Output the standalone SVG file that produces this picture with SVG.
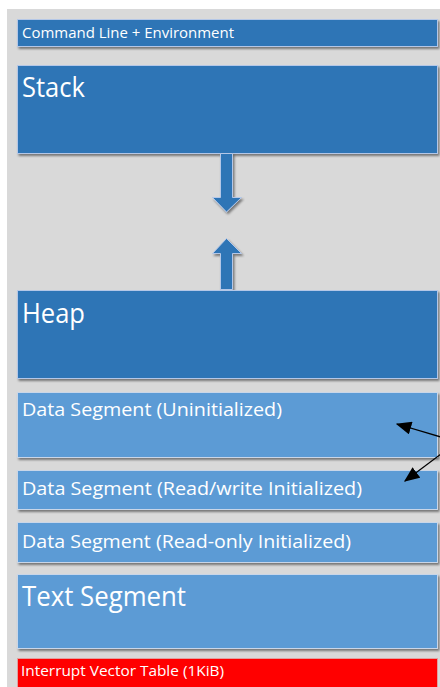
<svg xmlns="http://www.w3.org/2000/svg" width="440" height="687" viewBox="0 0 440 687">
<defs>
<filter id="sh" x="-5%" y="-5%" width="115%" height="130%">
<feDropShadow dx="1.5" dy="2" stdDeviation="1.2" flood-color="#000" flood-opacity="0.45"/>
</filter>
<marker id="ah2" viewBox="0 0 12 10" markerWidth="16" markerHeight="13" refX="11" refY="5" orient="auto" markerUnits="userSpaceOnUse">
<path d="M0,0 L12,5 L0,10 z" fill="#000"/>
</marker>
</defs>
<style>
.dk{fill:#2e75b6;stroke:#b4c7e7;stroke-width:1}
.lt{fill:#5b9bd5;stroke:#c9d6e8;stroke-width:1}
.rd{fill:#ff0000;stroke:#e0a0a0;stroke-width:1}
text{font-family:"Open Sans","Noto Sans","Liberation Sans",sans-serif;fill:#fff}
.s{font-size:15px}
.m{font-size:18px}
.l{font-size:27px}
</style>
<rect x="7" y="9" width="433" height="678" fill="#d9d9d9"/>
<g id="cmdline">
<rect class="dk" x="17.5" y="19.5" width="420" height="27" filter="url(#sh)"/>
<text class="s" x="22" y="38" textLength="212" lengthAdjust="spacingAndGlyphs">Command Line + Environment</text>
</g>
<g id="stack">
<rect class="dk" x="17.5" y="65.5" width="420" height="88" filter="url(#sh)"/>
<text class="l" x="22" y="97" textLength="63" lengthAdjust="spacingAndGlyphs">Stack</text>
</g>
<g id="arrows-growth">
<path class="dk" d="M220.5,153.5 L232.5,153.5 L232.5,197.5 L241.5,197.5 L226.5,212 L212.5,197.5 L220.5,197.5 Z" filter="url(#sh)"/>
<path class="dk" d="M220.5,289.5 L232.5,289.5 L232.5,253.5 L241.5,253.5 L226.5,238.5 L212.5,253.5 L220.5,253.5 Z" filter="url(#sh)"/>
</g>
<g id="heap">
<rect class="dk" x="17.5" y="290.5" width="420" height="88" filter="url(#sh)"/>
<text class="l" x="22" y="323" textLength="63" lengthAdjust="spacingAndGlyphs">Heap</text>
</g>
<g id="data-uninit">
<rect class="lt" x="17.5" y="392.5" width="420" height="65" filter="url(#sh)"/>
<text class="m" x="22" y="416" textLength="260" lengthAdjust="spacingAndGlyphs">Data Segment (Uninitialized)</text>
</g>
<g id="data-rw">
<rect class="lt" x="17.5" y="470.5" width="420" height="39" filter="url(#sh)"/>
<text class="m" x="22" y="495" textLength="340" lengthAdjust="spacingAndGlyphs">Data Segment (Read/write Initialized)</text>
</g>
<g id="data-ro">
<rect class="lt" x="17.5" y="522.5" width="420" height="40" filter="url(#sh)"/>
<text class="m" x="22" y="548" textLength="329" lengthAdjust="spacingAndGlyphs">Data Segment (Read-only Initialized)</text>
</g>
<g id="text-seg">
<rect class="lt" x="17.5" y="574.5" width="420" height="74" filter="url(#sh)"/>
<text class="l" x="22" y="606" textLength="164" lengthAdjust="spacingAndGlyphs">Text Segment</text>
</g>
<g id="ivt">
<rect class="rd" x="17.5" y="658.5" width="420" height="30"/>
<text class="s" x="21" y="676" textLength="203" lengthAdjust="spacingAndGlyphs">Interrupt Vector Table (1KiB)</text>
</g>
<g id="connectors" stroke="#000" stroke-width="1.3" fill="none">
<line x1="441" y1="437" x2="397" y2="424" marker-end="url(#ah2)"/>
<line x1="441" y1="454" x2="405" y2="481" marker-end="url(#ah2)"/>
</g>
</svg>
